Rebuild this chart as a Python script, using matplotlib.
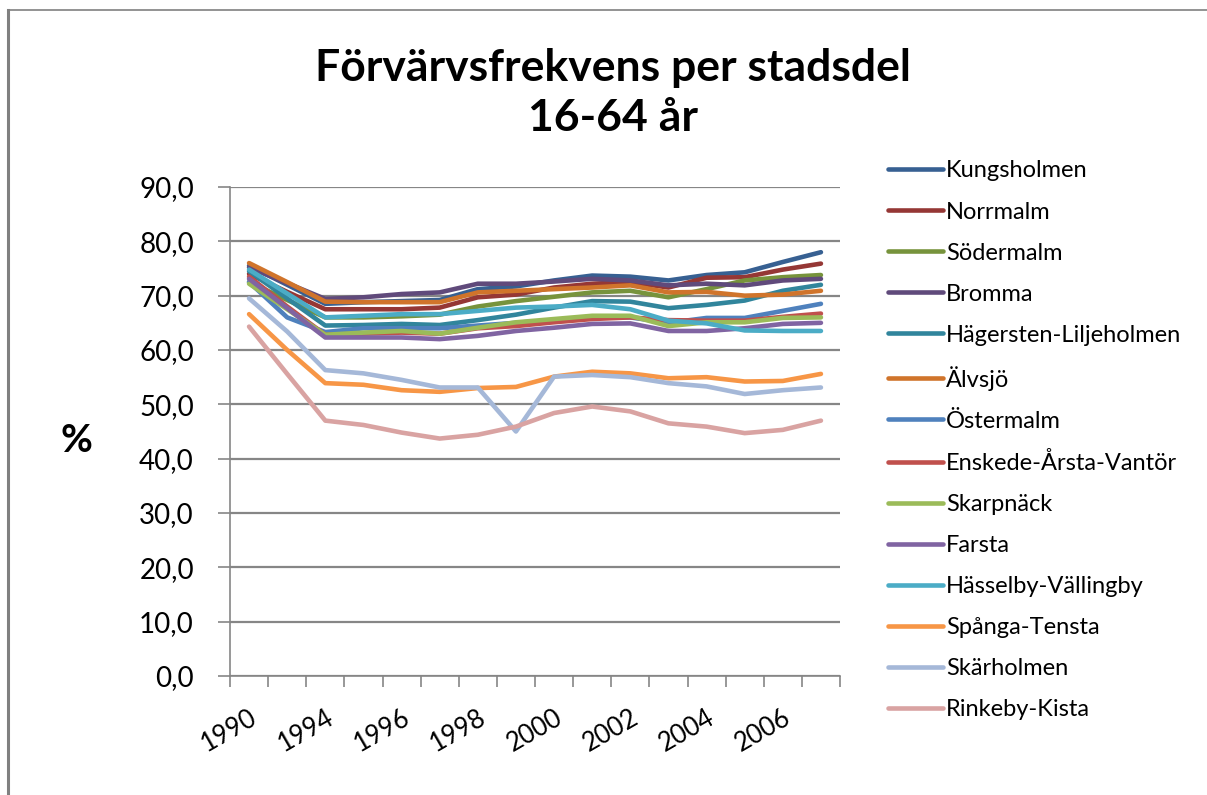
import matplotlib
matplotlib.use('Agg')
import matplotlib.pyplot as plt
import numpy as np
from matplotlib.lines import Line2D

plt.rcParams['font.family'] = ['Lato', 'DejaVu Sans']

years = [1990, 1993, 1994, 1995, 1996, 1997, 1998, 1999,
         2000, 2001, 2002, 2003, 2004, 2005, 2006, 2007]
shown_years = ['1990', '', '1994', '', '1996', '', '1998', '',
               '2000', '', '2002', '', '2004', '', '2006', '']

names = ['Kungsholmen', 'Norrmalm', 'Södermalm', 'Bromma',
         'Hägersten-Liljeholmen', 'Älvsjö', 'Östermalm',
         'Enskede-Årsta-Vantör', 'Skarpnäck', 'Farsta',
         'Hässelby-Vällingby', 'Spånga-Tensta', 'Skärholmen', 'Rinkeby-Kista']

colors = ['#376092', '#953735', '#77933C', '#604A7B', '#31859C', '#D0742B',
          '#4F81BD', '#C0504D', '#9BBB59', '#8064A2', '#4BACC6', '#F79646',
          '#A5B8D8', '#D9A3A2']

kungsholmen = [75.5, 72.0, 68.5, 68.8, 69.0, 69.2, 71.2, 71.7, 72.8, 73.7, 73.5, 72.8, 73.8, 74.3, 76.2, 78.0]
norrmalm    = [74.0, 70.7, 67.5, 67.5, 67.5, 67.8, 69.7, 70.2, 71.5, 72.2, 72.5, 71.5, 73.3, 73.4, 74.8, 75.9]
sodermalm   = [72.5, 69.2, 66.0, 66.0, 66.2, 66.5, 68.0, 69.0, 69.8, 70.6, 70.9, 69.7, 71.2, 72.8, 73.4, 73.8]
bromma      = [75.2, 72.3, 69.4, 69.7, 70.3, 70.6, 72.2, 72.2, 72.6, 73.1, 72.8, 71.9, 72.2, 71.9, 72.8, 73.1]
hagersten   = [74.5, 69.5, 64.5, 64.6, 64.8, 64.6, 65.5, 66.5, 67.8, 69.0, 68.9, 67.7, 68.3, 69.1, 70.9, 72.0]
alvsjo      = [76.0, 72.5, 68.9, 68.8, 68.8, 68.8, 70.6, 70.9, 71.2, 71.5, 71.9, 70.6, 70.7, 70.0, 70.2, 70.9]
ostermalm   = [72.5, 66.0, 63.3, 64.0, 64.0, 64.0, 64.5, 65.0, 65.5, 66.0, 66.0, 65.0, 65.9, 65.9, 67.2, 68.5]
enskede     = [73.5, 68.0, 62.8, 63.0, 63.2, 63.0, 64.0, 64.4, 65.1, 65.7, 66.0, 65.5, 65.4, 65.4, 66.1, 66.7]
skarpnack   = [72.2, 67.5, 62.8, 63.2, 63.5, 63.0, 64.1, 65.1, 65.7, 66.3, 66.3, 64.4, 65.1, 65.1, 65.9, 66.0]
farsta      = [73.1, 67.7, 62.3, 62.3, 62.3, 62.0, 62.6, 63.5, 64.1, 64.8, 64.9, 63.5, 63.5, 64.0, 64.8, 65.0]
hasselby    = [74.8, 70.4, 66.0, 66.3, 66.6, 66.6, 67.2, 67.8, 68.0, 68.3, 67.5, 65.4, 64.9, 63.6, 63.5, 63.5]
spanga      = [66.6, 60.0, 53.9, 53.6, 52.6, 52.3, 53.0, 53.2, 55.1, 56.0, 55.7, 54.8, 55.0, 54.2, 54.3, 55.6]
skarholmen  = [69.5, 63.4, 56.3, 55.7, 54.5, 53.1, 53.1, 45.0, 55.1, 55.4, 55.0, 53.9, 53.3, 51.9, 52.6, 53.1]
rinkeby     = [64.3, 55.6, 47.0, 46.2, 44.8, 43.7, 44.4, 45.9, 48.4, 49.6, 48.7, 46.5, 45.9, 44.7, 45.3, 47.0]

series = [kungsholmen, norrmalm, sodermalm, bromma, hagersten, alvsjo, ostermalm,
          enskede, skarpnack, farsta, hasselby, spanga, skarholmen, rinkeby]

W, H = 1207, 795
fig = plt.figure(figsize=(W / 100, H / 100), dpi=100)

# outer frame of the embedded chart
fig.add_artist(Line2D([8 / W, 8 / W], [0, 1 - 10 / H], color='#808080', lw=2.2))
fig.add_artist(Line2D([8 / W, 1], [1 - 10 / H, 1 - 10 / H], color='#808080', lw=1.2))

ax = fig.add_axes([230 / W, 1 - 676 / H, 610 / W, 489 / H])
x = np.arange(len(years))
for vals, name, c in zip(series, names, colors):
    ax.plot(x, vals, color=c, lw=3.3, label=name, solid_capstyle='round', solid_joinstyle='round')

ax.set_ylim(0, 90)
ax.set_xlim(-0.5, len(years) - 0.5)
ax.set_yticks(np.arange(0, 91, 10))
ax.set_yticklabels([f'{v},0' for v in range(0, 91, 10)], fontsize=20)
ax.yaxis.grid(True, color='#868686', lw=1.6)
ax.set_axisbelow(True)

ax.set_xticks(x)
ax.set_xticklabels(shown_years, fontsize=18.5, rotation=30, ha='right', rotation_mode='anchor')
ax.set_xticks(np.arange(-0.5, len(years), 1), minor=True)
ax.tick_params(axis='x', which='major', length=0, pad=21)
ax.tick_params(axis='x', which='minor', length=8, color='#868686', width=1.2)
ax.tick_params(axis='y', length=9, color='#868686', width=1.2, pad=17)
for s in ['top', 'right']:
    ax.spines[s].set_visible(False)
for s in ['left', 'bottom']:
    ax.spines[s].set_color('#868686')
    ax.spines[s].set_linewidth(1.2)

for lab in ax.get_xticklabels():
    lab.set_x(lab.get_position()[0] + 0.2)

fig.text(76 / W, 1 - 440 / H, '%', fontsize=28, fontweight='bold', ha='center', va='center')
fig.text(613 / W, 1 - 68 / H, 'Förvärvsfrekvens per stadsdel', fontsize=32,
         fontweight='bold', ha='center', va='center')
fig.text(613 / W, 1 - 118 / H, '16-64 år', fontsize=32,
         fontweight='bold', ha='center', va='center')

leg = fig.legend(loc='upper left', bbox_to_anchor=(879 / W, 1 - 151 / H),
                 frameon=False, fontsize=17, handlelength=2.3, handletextpad=0.15,
                 labelspacing=0.85, borderaxespad=0)

fig.savefig('out.png', dpi=100)
